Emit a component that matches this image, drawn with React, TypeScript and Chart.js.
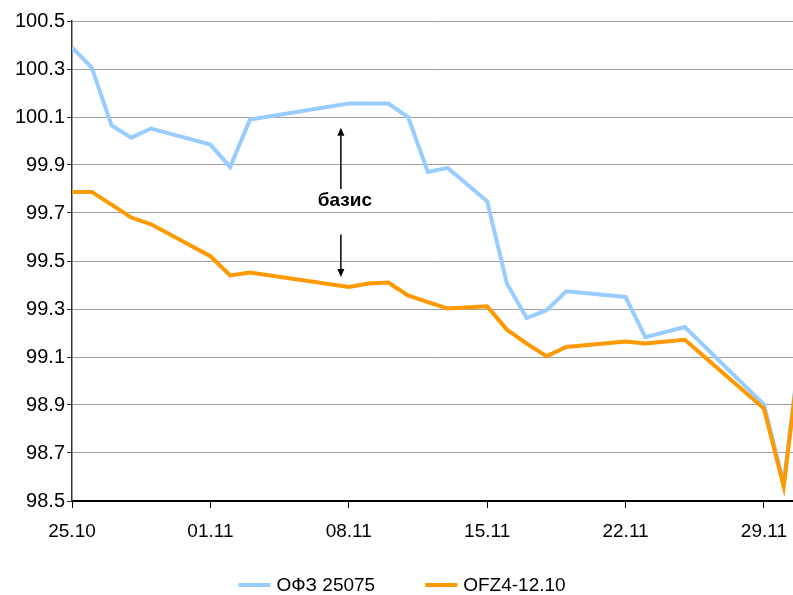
import React, { useEffect, useRef } from "react";
import { Chart, registerables } from "chart.js";

Chart.register(...registerables);

// Trading dates (dd.mm, 2010)
const dates = [
  "25.10", "26.10", "27.10", "28.10", "29.10",
  "01.11", "02.11", "03.11", "08.11", "09.11", "10.11", "11.11", "12.11", "13.11",
  "15.11", "16.11", "17.11", "18.11", "19.11", "22.11", "23.11", "25.11",
  "29.11", "30.11", "01.12",
];

const ofz25075 = [
  100.39, 100.306, 100.065, 100.014, 100.052,
  99.985, 99.892, 100.089, 100.156, 100.156, 100.156, 100.1, 99.871, 99.888,
  99.749, 99.406, 99.262, 99.295, 99.374, 99.35, 99.183, 99.225,
  98.902, 98.575, 99.25,
];

const ofz4_1210 = [
  99.788, 99.788, 99.735, 99.681, 99.653,
  99.52, 99.44, 99.452, 99.392, 99.406, 99.41, 99.357, 99.329, 99.302,
  99.311, 99.214, 99.156, 99.103, 99.142, 99.165, 99.156, 99.172,
  98.885, 98.561, 99.24,
];

const seriesLabels = ["ОФЗ 25075", "OFZ4-12.10"];
const seriesColors = ["#99CCFF", "#FF9900"];

const xTickLabels = ["25.10", "01.11", "08.11", "15.11", "22.11", "29.11"];
const yMin = 98.5;
const yMax = 100.5;
const yStep = 0.2;
const xMaxDay = 36.47;

const annotationText = "базис";
const annotationX = 13.6;
const arrowUp = { from: 99.8, to: 100.055 };
const arrowDown = { from: 99.61, to: 99.433 };
const annotationTextY = 99.75;

const FONT = "'Liberation Sans', Arial, Helvetica, sans-serif";

function dayOf(s: string): number {
  const [d, m] = s.split(".").map(Number);
  const t = Date.UTC(2010, m - 1, d);
  const t0 = Date.UTC(2010, 9, 25);
  return Math.round((t - t0) / 86400000);
}

const xTickDays = xTickLabels.map(dayOf);

const legendPlugin = {
  id: "customLegend",
  afterDraw(chart: any) {
    const ctx = chart.ctx as CanvasRenderingContext2D;
    ctx.save();
    ctx.font = `19px ${FONT}`;
    const boxW = 32;
    const gap = 6;
    const itemGap = 50;
    const widths = seriesLabels.map((l) => boxW + gap + ctx.measureText(l).width);
    const total = widths.reduce((a, b) => a + b, 0) + itemGap * (widths.length - 1);
    let x = 402 - total / 2;
    const y = 585;
    seriesLabels.forEach((label, i) => {
      ctx.strokeStyle = seriesColors[i];
      ctx.lineWidth = 4;
      ctx.beginPath();
      ctx.moveTo(x, y);
      ctx.lineTo(x + boxW, y);
      ctx.stroke();
      ctx.fillStyle = "#000";
      ctx.textBaseline = "middle";
      ctx.textAlign = "left";
      ctx.fillText(label, x + boxW + gap, y + 1);
      x += widths[i] + itemGap;
    });
    ctx.restore();
  },
};

function drawArrow(ctx: CanvasRenderingContext2D, x: number, y1: number, y2: number) {
  const dir = y2 < y1 ? -1 : 1;
  const headLen = 8;
  ctx.beginPath();
  ctx.moveTo(x, y1);
  ctx.lineTo(x, y2 - dir * headLen);
  ctx.stroke();
  ctx.beginPath();
  ctx.moveTo(x, y2);
  ctx.lineTo(x - 3.5, y2 - dir * headLen);
  ctx.lineTo(x + 3.5, y2 - dir * headLen);
  ctx.closePath();
  ctx.fill();
}

const annotationPlugin = {
  id: "basisAnnotation",
  afterDatasetsDraw(chart: any) {
    const ctx = chart.ctx as CanvasRenderingContext2D;
    const xs = chart.scales.x;
    const ys = chart.scales.y;
    const x = xs.getPixelForValue(annotationX);
    ctx.save();
    ctx.strokeStyle = "#000";
    ctx.fillStyle = "#000";
    ctx.lineWidth = 1.5;
    drawArrow(ctx, x, ys.getPixelForValue(arrowUp.from), ys.getPixelForValue(arrowUp.to));
    drawArrow(ctx, x, ys.getPixelForValue(arrowDown.from), ys.getPixelForValue(arrowDown.to));
    ctx.font = `bold 19px ${FONT}`;
    ctx.textAlign = "center";
    ctx.textBaseline = "middle";
    ctx.fillText(annotationText, x + 4, ys.getPixelForValue(annotationTextY));
    ctx.restore();
  },
};

export default function App() {
  const canvasRef = useRef<HTMLCanvasElement | null>(null);

  useEffect(() => {
    const canvas = canvasRef.current;
    if (!canvas) return;
    const days = dates.map(dayOf);
    const mk = (vals: number[]) => vals.map((v, i) => ({ x: days[i], y: v }));

    const chart = new Chart(canvas, {
      type: "line",
      data: {
        datasets: [
          {
            label: seriesLabels[1],
            data: mk(ofz4_1210),
            borderColor: seriesColors[1],
            backgroundColor: seriesColors[1],
            borderWidth: 4,
            pointRadius: 0,
            tension: 0,
            order: 0,
          },
          {
            label: seriesLabels[0],
            data: mk(ofz25075),
            borderColor: seriesColors[0],
            backgroundColor: seriesColors[0],
            borderWidth: 4,
            pointRadius: 0,
            tension: 0,
            order: 1,
          },
        ],
      },
      options: {
        animation: false,
        responsive: false,
        maintainAspectRatio: false,
        devicePixelRatio: 1,
        layout: { padding: { top: 21, left: 0, right: 0, bottom: 0 } },
        plugins: {
          legend: { display: false },
          tooltip: { enabled: false },
        },
        scales: {
          x: {
            type: "linear",
            min: 0,
            max: xMaxDay,
            afterBuildTicks: (scale: any) => {
              scale.ticks = xTickDays.map((v) => ({ value: v }));
            },
            afterFit: (scale: any) => {
              scale.height = 94;
              scale.paddingRight = 0;
              scale.paddingLeft = 0;
            },
            ticks: {
              autoSkip: false,
              maxRotation: 0,
              padding: 12,
              color: "#000",
              font: { family: FONT, size: 19 },
              callback: (value: any) => {
                const idx = xTickDays.indexOf(Number(value));
                return idx >= 0 ? xTickLabels[idx] : "";
              },
            },
            grid: {
              display: true,
              drawOnChartArea: false,
              drawTicks: true,
              tickLength: 7,
              color: "#000",
              tickColor: "#000",
            },
            border: { display: true, color: "#000", width: 2 },
          },
          y: {
            type: "linear",
            min: yMin,
            max: yMax,
            afterFit: (scale: any) => {
              scale.width = 72;
            },
            ticks: {
              stepSize: yStep,
              padding: 2,
              color: "#000",
              font: { family: FONT, size: 20 },
              callback: (value: any) => Number(value).toFixed(1),
            },
            grid: {
              color: "#a0a0a0",
              lineWidth: 1,
              tickLength: 5,
              tickColor: "#333",
            },
            border: { display: true, color: "#333", width: 1.5 },
          },
        },
      },
      plugins: [legendPlugin, annotationPlugin],
    } as any);

    return () => chart.destroy();
  }, []);

  return (
    <div style={{ position: "absolute", left: 0, top: 0, width: 793, height: 595, background: "#fff" }}>
      <canvas ref={canvasRef} width={793} height={595} style={{ display: "block", width: 793, height: 595 }} />
    </div>
  );
}
